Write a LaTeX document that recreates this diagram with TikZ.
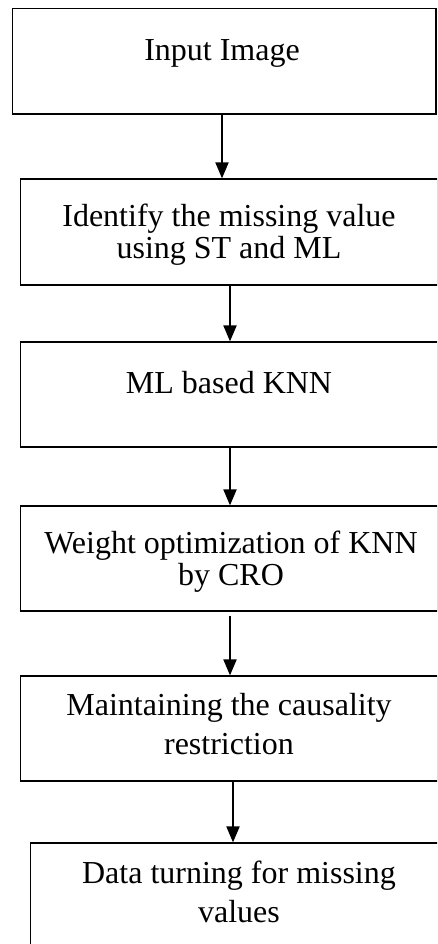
\documentclass[tikz,border=0pt]{standalone}
\usepackage{fontspec}
\setmainfont{Liberation Serif}
\usepackage{tikz}
\usetikzlibrary{shapes,arrows.meta}
\begin{document}
\begin{tikzpicture}[x=1pt, y=-1pt]
				\tikzstyle{box}=[draw, shape=rectangle, line width=1.2pt, inner sep=0pt];
				\tikzstyle{txt}=[draw=none, align=center, anchor=base, inner sep=0pt, font=\fontsize{32}{31.5}\selectfont];
				\tikzstyle{loose}=[font=\fontsize{32}{38.5}\selectfont];
				\tikzstyle{arr}=[line width=2pt, -{Triangle[width=13pt, length=16pt]}];
				\clip (0,0) rectangle (437,944);
				\node [box, minimum width=423.3pt, minimum height=105.7pt] (b1) at (224.35,61.15) {};
				\node [box, minimum width=417.3pt, minimum height=106pt] (b2) at (229.35,232) {};
				\node [box, minimum width=417.3pt, minimum height=105pt] (b3) at (229.35,394.5) {};
				\node [box, minimum width=417.3pt, minimum height=105pt] (b4) at (229.35,558.5) {};
				\node [box, minimum width=417.3pt, minimum height=105pt] (b5) at (229.35,728.5) {};
				\node [box, minimum width=416.3pt, minimum height=117pt] (b6) at (238.85,901.5) {};
				\node [txt] (t1) at (222,61) {Input Image};
				\node [txt] (t2) at (229,258) {Identify the missing value\\using ST and ML};
				\node [txt] (t3) at (229,393) {ML based KNN};
				\node [txt] (t4) at (231,585) {Weight optimization of KNN\\by CRO};
				\node [txt, loose] (t5) at (229,754) {Maintaining the causality\\restriction};
				\node [txt, loose] (t6) at (239,922) {Data turning for missing\\values};
				\draw[arr] ([xshift=-2.35pt]b1.south) -- ([xshift=-2.35pt]b1.south |- b2.north);
				\draw[arr] ([xshift=0.65pt]b2.south) -- ([xshift=0.65pt]b2.south |- b3.north);
				\draw[arr] ([xshift=0.65pt]b3.south) -- ([xshift=0.65pt]b3.south |- b4.north);
				\draw[arr] ([xshift=0.65pt,yshift=-4pt]b4.south) -- ([xshift=0.65pt]b4.south |- b5.north);
				\draw[arr] ([xshift=3.65pt]b5.south) -- ([xshift=3.65pt]b5.south |- b6.north);
\end{tikzpicture}
\end{document}
